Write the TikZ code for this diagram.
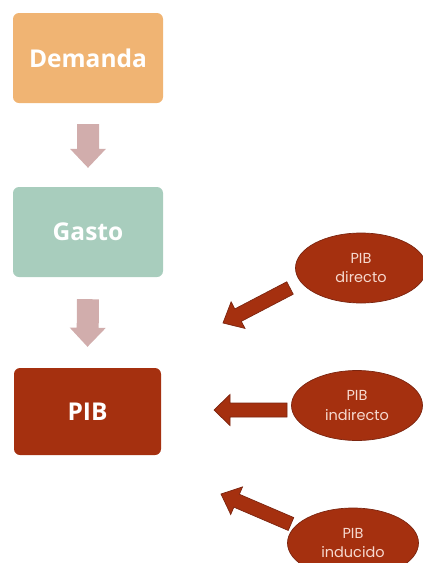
\documentclass[tikz,border=0pt]{standalone}
\usepackage{fontspec}
\setmainfont{Open Sans}
\newfontfamily\ellfont{Poppins}
\usetikzlibrary{calc,shapes.geometric}
\definecolor{cdem}{HTML}{F0B473}
\definecolor{cgas}{HTML}{A8CDBD}
\definecolor{cpib}{HTML}{A5300F}
\definecolor{cdown}{HTML}{D1ADAC}
\definecolor{cedge}{HTML}{7B2510}
\definecolor{ctxt}{HTML}{F6D9CF}
\tikzset{
  box/.style={rounded corners=6pt, minimum width=150pt, minimum height=90pt, inner sep=0pt,
    text=white, font=\fontsize{24.5}{28}\selectfont\bfseries},
  ell/.style={ellipse, fill=cpib, draw=cedge, line width=0.7pt, minimum width=131pt, minimum height=70pt,
    inner sep=0pt, text=ctxt, align=center, font=\ellfont\fontsize{14.5}{19.5}\selectfont},
  downarrow/.style={fill=cdown},
  redarrow/.style={fill=cpib, draw=cedge, line width=0.7pt},
}
% #1 style, #2 from, #3 to, #4 shaft half width, #5 head half width, #6 head length
\newcommand\blockarrow[6]{%
  \path[#1] let \p1=($(#3)-(#2)$), \n1={atan2(\y1,\x1)}, \n2={veclen(\x1,\y1)} in
    [shift={(#2)}, rotate=\n1]
    (0,#4) -- ({\n2-#6},#4) -- ({\n2-#6},#5) -- (\n2,0) -- ({\n2-#6},-#5) -- ({\n2-#6},-#4) -- (0,-#4) -- cycle;}
\begin{document}
\begin{tikzpicture}[x=1pt,y=-1pt]
\useasboundingbox (0,0) rectangle (423,563);
\node[box, fill=cdem] (dem) at (88,58) {Demanda};
\node[box, fill=cgas] (gas) at (88,232) {Gasto};
\node[box, fill=cpib, minimum width=147pt, minimum height=87pt] (pib) at (87.5,411.5) {PIB};
\coordinate (a1s) at ($(dem.south)+(0,21)$);
\coordinate (a1e) at ($(gas.north)+(0,-19)$);
\coordinate (a2s) at ($(gas.south)+(0,22)$);
\coordinate (a2e) at ($(pib.north)+(0,-21)$);
\blockarrow{downarrow}{a1s}{a1e}{11}{18}{19}
\blockarrow{downarrow}{a2s}{a2e}{11}{18}{19}
\node[ell] (dir) at (361,268) {PIB\\directo};
\node[ell] (ind) at (357,405.5) {PIB\\indirecto};
\node[ell] (inu) at (353,543) {PIB\\inducido};
\coordinate (t1) at (290,288);
\coordinate (h1) at (223,323);
\coordinate (t2) at (287,410);
\coordinate (h2) at (214,410);
\coordinate (t3) at (291,524);
\coordinate (h3) at (221,494);
\blockarrow{redarrow}{t1}{h1}{7}{15}{17}
\blockarrow{redarrow}{t2}{h2}{7}{15.5}{16}
\blockarrow{redarrow}{t3}{h3}{7}{15}{17}
\end{tikzpicture}
\end{document}
